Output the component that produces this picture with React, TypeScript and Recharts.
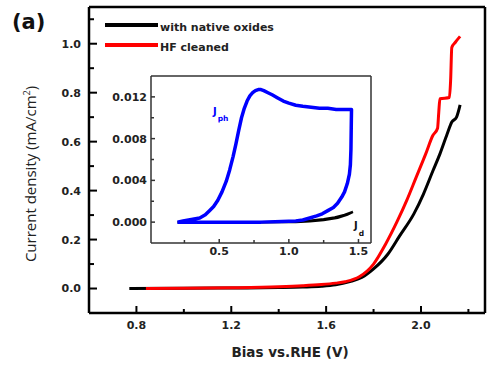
import React from "react";
import { LineChart, Line, XAxis, YAxis } from "recharts";

// main panel: J-V curves (bias vs. RHE, mA/cm2)
const nativeV = [0.77, 1.0, 1.2, 1.4, 1.5, 1.58, 1.64, 1.7, 1.75, 1.8, 1.86, 1.91, 1.97, 2.01, 2.05, 2.08, 2.11, 2.13, 2.15, 2.165];
const nativeJ = [0, 0.001, 0.002, 0.004, 0.006, 0.009, 0.015, 0.028, 0.045, 0.08, 0.14, 0.215, 0.305, 0.385, 0.48, 0.55, 0.63, 0.68, 0.7, 0.75];

const hfV = [0.84, 1.0, 1.2, 1.4, 1.5, 1.58, 1.64, 1.68, 1.74, 1.8, 1.85, 1.9, 1.94, 1.98, 2.02, 2.05, 2.07, 2.075, 2.08, 2.12, 2.125, 2.13, 2.145, 2.165];
const hfJ = [0, 0.001, 0.003, 0.007, 0.011, 0.016, 0.022, 0.028, 0.048, 0.1, 0.18, 0.275, 0.36, 0.455, 0.55, 0.625, 0.655, 0.72, 0.775, 0.78, 0.85, 0.985, 1.006, 1.03];

// inset: photo current loop (Jph) and dark current (Jd)
const phV = [
  0.2, 0.24, 0.28, 0.32, 0.36, 0.4, 0.43, 0.46, 0.49, 0.52, 0.55, 0.575, 0.6, 0.62, 0.64, 0.66, 0.68, 0.7, 0.72, 0.74,
  0.76, 0.78, 0.8, 0.82, 0.85, 0.88, 0.92, 0.96, 1.0, 1.05, 1.1, 1.16, 1.22, 1.28, 1.34, 1.4, 1.45,
  1.448, 1.446, 1.442, 1.435, 1.42, 1.4, 1.38, 1.35, 1.32, 1.28, 1.24, 1.2, 1.15, 1.1, 1.05, 0.95, 0.8, 0.6, 0.4, 0.2,
];
const phJ = [
  0, 0.0001, 0.0002, 0.0003, 0.0004, 0.0007, 0.0011, 0.0015, 0.0021, 0.0029, 0.0039, 0.005, 0.0063, 0.0075, 0.0088, 0.01, 0.0109, 0.0116, 0.0121, 0.0124,
  0.0126, 0.0127, 0.0127, 0.0126, 0.0124, 0.0122, 0.0119, 0.0116, 0.0114, 0.0112, 0.0111, 0.011, 0.0109, 0.0109, 0.0108, 0.0108, 0.0108,
  0.009, 0.007, 0.0055, 0.0046, 0.0037, 0.0029, 0.0024, 0.0018, 0.0014, 0.0011, 0.0008, 0.0006, 0.0004, 0.0002, 0.0001, 0.00005, 0, 0, 0, 0,
];
const darkV = [0.2, 0.5, 0.8, 0.95, 1.05, 1.15, 1.25, 1.33, 1.4, 1.46, 1.42, 1.35, 1.25, 1.15, 1.05, 0.95];
const darkJ = [0, 0, 0, 0.00002, 0.00006, 0.00014, 0.00028, 0.00045, 0.00068, 0.00098, 0.00072, 0.00042, 0.0002, 0.00008, 0.00002, 0];

const mainXTicks = [0.8, 1.0, 1.2, 1.4, 1.6, 1.8, 2.0, 2.2];
const mainXMajor = [0.8, 1.2, 1.6, 2.0];
const mainYTicks = [0, 0.1, 0.2, 0.3, 0.4, 0.5, 0.6, 0.7, 0.8, 0.9, 1.0, 1.1];
const mainYMajor = [0, 0.2, 0.4, 0.6, 0.8, 1.0];
const insetXTicks = [0.25, 0.5, 0.75, 1.0, 1.25, 1.5];
const insetXMajor = [0.5, 1.0, 1.5];
const insetYTicks = [0, 0.002, 0.004, 0.006, 0.008, 0.01, 0.012];
const insetYMajor = [0, 0.004, 0.008, 0.012];

const zip = (xs: number[], ys: number[]) => xs.map((v, i) => ({ v, j: ys[i] }));

const FONT = "'DejaVu Sans', sans-serif";
const INK = "#222";

// ticks point inward, so draw the tick line ourselves next to the label
function makeTick(side: "left" | "bottom", majors: number[], margin: number, majorLen: number, minorLen: number, digits: number, width: number, color: string) {
  return (props: any) => {
    const { x, y, payload } = props;
    const val = payload.value as number;
    const isMajor = majors.some((m) => Math.abs(m - val) < 1e-9);
    const len = isMajor ? majorLen : minorLen;
    if (side === "left") {
      const ax = x + margin;
      return (
        <g>
          <line x1={ax} x2={ax + len} y1={y} y2={y} stroke={color} strokeWidth={width} />
          {isMajor && (
            <text x={x} y={y} dy="0.36em" textAnchor="end" fontFamily={FONT} fontWeight="bold" fontSize={11} fill={INK}>
              {val.toFixed(digits)}
            </text>
          )}
        </g>
      );
    }
    const ay = y - margin;
    return (
      <g>
        <line x1={x} x2={x} y1={ay} y2={ay - len} stroke={color} strokeWidth={width} />
        {isMajor && (
          <text x={x} y={y} dy="0.72em" textAnchor="middle" fontFamily={FONT} fontWeight="bold" fontSize={11} fill={INK}>
            {val.toFixed(digits)}
          </text>
        )}
      </g>
    );
  };
}

export default function App() {
  const nativeData = zip(nativeV, nativeJ);
  const hfData = zip(hfV, hfJ);
  const phData = zip(phV, phJ);
  const darkData = zip(darkV, darkJ);
  const mainFrame = { stroke: "#000", strokeWidth: 2.5 };
  const insetFrame = { stroke: "#333", strokeWidth: 1.5 };

  return (
    <div style={{ position: "absolute", left: 0, top: 0, width: 491, height: 367, background: "#fff" }}>
      <LineChart width={491} height={367} margin={{ top: 6, right: 5, left: 29, bottom: 24 }}>
        <XAxis
          type="number"
          dataKey="v"
          domain={[0.6, 2.27]}
          allowDataOverflow
          ticks={mainXTicks}
          interval={0}
          height={30}
          tickSize={0}
          tickMargin={8}
          axisLine={mainFrame}
          tickLine={false}
          tick={makeTick("bottom", mainXMajor, 8, 7, 4, 1, 2, "#000")}
        />
        <XAxis xAxisId="top" orientation="top" type="number" dataKey="v" domain={[0.6, 2.27]} allowDataOverflow height={1} tick={false} tickLine={false} axisLine={mainFrame} />
        <YAxis
          type="number"
          domain={[-0.1, 1.15]}
          allowDataOverflow
          ticks={mainYTicks}
          interval={0}
          width={60}
          tickSize={0}
          tickMargin={8}
          axisLine={mainFrame}
          tickLine={false}
          tick={makeTick("left", mainYMajor, 8, 8, 5, 1, 2, "#000")}
        />
        <YAxis yAxisId="right" orientation="right" type="number" domain={[-0.1, 1.15]} allowDataOverflow width={1} tick={false} tickLine={false} axisLine={mainFrame} />
        {/* invisible series so the top/right frame axes get drawn */}
        <Line xAxisId="top" yAxisId="right" data={hfData} dataKey="j" stroke="none" dot={false} legendType="none" isAnimationActive={false} />
        <Line data={nativeData} dataKey="j" name="with native oxides" type="monotone" stroke="#000" strokeWidth={3} dot={false} isAnimationActive={false} />
        <Line data={hfData} dataKey="j" name="HF cleaned" type="monotone" stroke="#f00" strokeWidth={3} dot={false} isAnimationActive={false} />
      </LineChart>

      <div style={{ position: "absolute", left: 100, top: 70, width: 280, height: 195 }}>
        <LineChart width={280} height={195} margin={{ top: 5, right: 8, left: 0, bottom: 0 }}>
          <XAxis
            type="number"
            dataKey="v"
            domain={[0.01, 1.59]}
            allowDataOverflow
            ticks={insetXTicks}
            interval={0}
            height={22}
            tickSize={0}
            tickMargin={4}
            axisLine={insetFrame}
            tickLine={false}
            tick={makeTick("bottom", insetXMajor, 4, 4, 3, 1, 1.5, "#333")}
          />
          <XAxis xAxisId="top" orientation="top" type="number" dataKey="v" domain={[0.01, 1.59]} allowDataOverflow height={1} tick={false} tickLine={false} axisLine={insetFrame} />
          <YAxis
            type="number"
            domain={[-0.002, 0.014]}
            allowDataOverflow
            ticks={insetYTicks}
            interval={0}
            width={51}
            tickSize={0}
            tickMargin={4}
            axisLine={insetFrame}
            tickLine={false}
            tick={makeTick("left", insetYMajor, 4, 4, 3, 3, 1.5, "#333")}
          />
          <YAxis yAxisId="right" orientation="right" type="number" domain={[-0.002, 0.014]} allowDataOverflow width={1} tick={false} tickLine={false} axisLine={insetFrame} />
          <Line xAxisId="top" yAxisId="right" data={darkData} dataKey="j" stroke="none" dot={false} legendType="none" isAnimationActive={false} />
          <Line data={darkData} dataKey="j" type="linear" stroke="#000" strokeWidth={2.5} dot={false} isAnimationActive={false} />
          <Line data={phData} dataKey="j" type="linear" stroke="#0000ff" strokeWidth={3.5} strokeLinejoin="round" dot={false} isAnimationActive={false} />
        </LineChart>
      </div>

      <svg width={491} height={367} style={{ position: "absolute", left: 0, top: 0, pointerEvents: "none" }}>
        <text x={12} y={29} fontFamily={FONT} fontWeight="bold" fontSize={21} fill="#111">(a)</text>
        <line x1={105} x2={158} y1={25} y2={25} stroke="#000" strokeWidth={4} />
        <text x={160} y={30.5} fontFamily={FONT} fontWeight="bold" fontSize={11} fill={INK}>with native oxides</text>
        <line x1={105} x2={158} y1={45} y2={45} stroke="#f00" strokeWidth={4} />
        <text x={160} y={50.5} fontFamily={FONT} fontWeight="bold" fontSize={11} fill={INK}>HF cleaned</text>
        <text x={290} y={357} textAnchor="middle" fontFamily={FONT} fontWeight="bold" fontSize={13.5} fill={INK}>Bias vs.RHE (V)</text>
        <text transform="translate(35.5,174) rotate(-90)" textAnchor="middle" fontFamily="'Open Sans', sans-serif" fontSize={15} fill={INK}>
          Current density (mA/cm<tspan dy={-6} fontSize={9}>2</tspan><tspan dy={6}>)</tspan>
        </text>
        <text x={213} y={115} fontFamily={FONT} fontWeight="bold" fontSize={10} fill="#0000ff">
          J<tspan dx={1} dy={6} fontSize={7.5}>ph</tspan>
        </text>
        <text x={354} y={229} fontFamily={FONT} fontWeight="bold" fontSize={10} fill="#111">
          J<tspan dx={1} dy={7} fontSize={7.5}>d</tspan>
        </text>
      </svg>
    </div>
  );
}
